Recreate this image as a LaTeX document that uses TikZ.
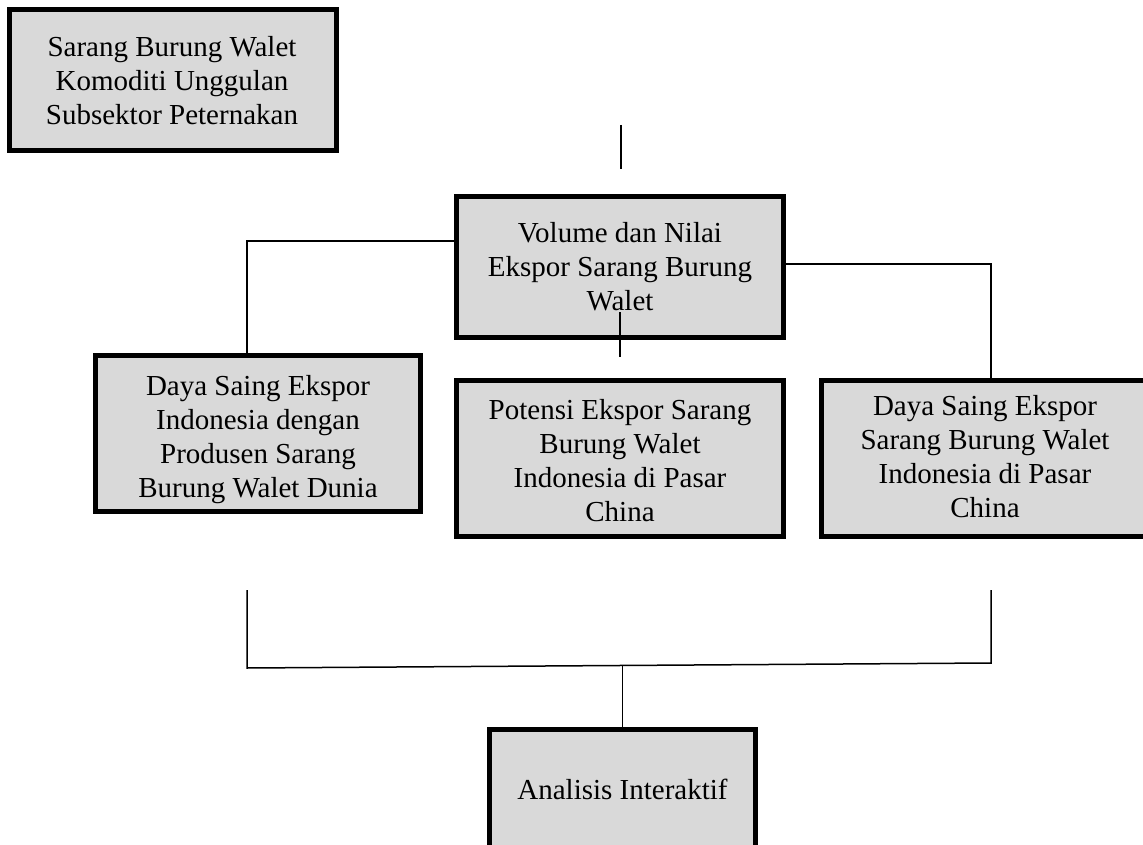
\documentclass[tikz,border=0pt]{standalone}
\usepackage{fontspec}
\setmainfont{Liberation Serif}
\definecolor{boxgrey}{HTML}{D9D9D9}
\begin{document}
\begin{tikzpicture}[x=1pt,y=-1pt,
  box/.style={draw=black, line width=5pt, fill=boxgrey, inner sep=0pt},
  txt/.style={align=center, inner sep=0pt, font=\fontsize{29}{33.8}\selectfont,
              execute at begin node=\strut, execute at end node=\strut},
  link/.style={draw=black, line width=1.5pt}]
\clip (0,0) rectangle (1143,845);
\fill[white] (0,0) rectangle (1143,845);

% boxes
\node[box, minimum width=327pt, minimum height=141pt] (b1) at (173,80) {};
\node[txt] (t1) at (172,85.5) {Sarang Burung Walet\\Komoditi Unggulan\\Subsektor Peternakan};

\node[box, minimum width=327pt, minimum height=141pt] (b2) at (620,267) {};

\node[box, minimum width=325pt, minimum height=156pt] (b3) at (258,433.5) {};
\node[txt] (t3) at (258,441.5) {Daya Saing Ekspor\\Indonesia dengan\\Produsen Sarang\\Burung Walet Dunia};

\node[box, minimum width=327pt, minimum height=156pt] (b4) at (620,458.5) {};
\node[txt] (t4) at (620,465.6) {Potensi Ekspor Sarang\\Burung Walet\\Indonesia di Pasar\\China};

\node[box, minimum width=327pt, minimum height=156pt] (b5) at (985,458.5) {};
\node[txt] (t5) at (985,461.5) {Daya Saing Ekspor\\Sarang Burung Walet\\Indonesia di Pasar\\China};

\node[box, minimum width=266pt, minimum height=121pt] (b6) at (622.5,790) {};
\node[txt] (t6) at (622.5,793) {Analisis Interaktif};

% coordinates for free line ends
\coordinate (u1) at (621,125);
\coordinate (u2) at (621,169);
\coordinate (w1) at (620,312);
\coordinate (w2) at (620,357);
\coordinate (lk) at (247,241);
\coordinate (rk) at (991,264);
\coordinate (ll) at (247,590);
\coordinate (lc) at (247,668);
\coordinate (rc) at (991,663);
\coordinate (rr) at (991,590);
\coordinate (mc) at (622.5,665.5);

% text of box 2 (line crosses it)
\node[txt] (t2) at (620,271.5) {Volume dan Nilai\\Ekspor Sarang Burung\\Walet};

% connectors
\draw[link] (u1) -- (u2);
\draw[link] (w1) -- (w2);
\draw[link] (b2.west |- lk) -- (lk) -- (lk |- b3.north);
\draw[link] (b2.east |- rk) -- (rk) -- (rk |- b5.north);
\draw[link] (ll) -- (lc) -- (rc) -- (rr);
\draw[link] (mc) -- (mc |- b6.north);
\end{tikzpicture}
\end{document}
